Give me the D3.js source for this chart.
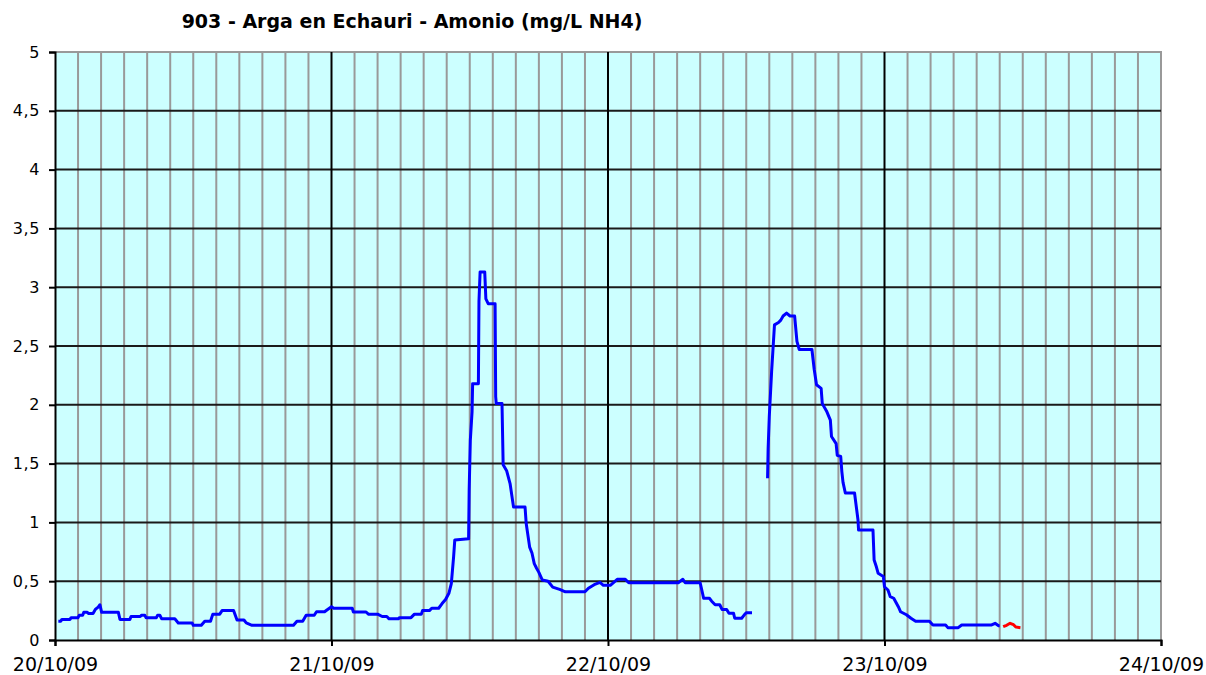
<!DOCTYPE html>
<html>
<head>
<meta charset="utf-8">
<script src="https://cdn.jsdelivr.net/npm/d3@7"></script>
<style>
  html, body { margin: 0; padding: 0; background: #ffffff; }
  svg { display: block; }
  text { font-family: "DejaVu Sans", Verdana, sans-serif; fill: #000; }
</style>
</head>
<body>
<svg id="chart" width="1206" height="675"></svg>
<script>
// Ammonium readings, station 903 (Arga en Echauri)
// Time is given in hours after 20/10/09 00:00.
const title = "903 - Arga en Echauri - Amonio (mg/L NH4)";
const dayLabels = ["20/10/09", "21/10/09", "22/10/09", "23/10/09", "24/10/09"];
const yTickValues = [0, 0.5, 1, 1.5, 2, 2.5, 3, 3.5, 4, 4.5, 5];

// validated series (blue), null marks the gap in the record
const blueHours = [
  0.29, 0.5, 0.6, 1.3, 1.4, 2.0, 2.1, 2.4, 2.5, 2.8, 2.9, 3.3, 3.5, 3.75, 3.9, 4.05,
  5.5, 5.64, 6.5, 6.6, 7.4, 7.5, 7.8, 7.9, 8.8, 8.9, 9.1, 9.26, 10.4, 10.7, 11.9, 12.0,
  12.7, 13.0, 13.5, 13.7, 14.3, 14.5, 15.5, 15.8, 16.4, 16.6, 17.1, 20.7, 21.0, 21.5,
  21.8, 22.5, 22.7, 23.4, 23.6, 24.0, 24.2, 25.8, 25.9, 27.0, 27.2, 28.0, 28.4, 28.8,
  29.0, 29.8, 29.9, 30.9, 31.2, 31.8, 31.9, 32.5, 32.7, 33.3, 33.6, 33.9, 34.2, 34.4,
  34.5, 34.6, 34.7, 35.9, 35.95, 36.05, 36.2, 36.25, 36.75, 36.8, 36.9, 37.3, 37.4, 37.6,
  38.2, 38.25, 38.3, 38.8, 38.9, 39.2, 39.5, 39.8, 40.8, 40.9, 41.2, 41.4, 41.6, 41.8,
  42.0, 42.3, 42.8, 43.2, 43.8, 44.3, 46.0, 46.3, 46.8, 47.3, 47.6, 48.2, 48.5, 48.8,
  49.5, 49.8, 54.1, 54.5, 54.7, 56.0, 56.2, 56.3, 56.8, 57.0, 57.3, 57.7, 57.9, 58.3,
  58.5, 58.9, 59.0, 59.6, 59.8, 60.0, 60.5,
  61.0,
  61.85, 61.9, 62.0, 62.2, 62.45, 62.8, 63.0, 63.2, 63.5, 63.8, 64.2, 64.4, 64.6, 65.7,
  65.9, 66.1, 66.5, 66.6, 67.0, 67.3, 67.4, 67.8, 67.9, 68.2, 68.3, 68.4, 68.6, 69.4,
  69.7, 69.75, 71.0, 71.1, 71.3, 71.45, 71.9, 72.0, 72.3, 72.5, 72.8, 73.2, 73.4, 73.9,
  74.3, 74.7, 75.9, 76.2, 77.3, 77.5, 78.4, 78.7, 81.3, 81.6, 81.9, 82.0
];
const blueValues = [
  0.16, 0.16, 0.175, 0.175, 0.19, 0.19, 0.21, 0.21, 0.235, 0.235, 0.225, 0.225, 0.26, 0.28, 0.30, 0.235,
  0.235, 0.175, 0.175, 0.2, 0.2, 0.21, 0.21, 0.19, 0.19, 0.21, 0.21, 0.18, 0.18, 0.145, 0.145, 0.125,
  0.125, 0.16, 0.16, 0.22, 0.22, 0.25, 0.25, 0.17, 0.17, 0.145, 0.125, 0.125, 0.16, 0.16,
  0.21, 0.21, 0.24, 0.24, 0.255, 0.283, 0.27, 0.27, 0.238, 0.238, 0.22, 0.22, 0.2, 0.2,
  0.18, 0.18, 0.19, 0.19, 0.22, 0.22, 0.25, 0.25, 0.27, 0.27, 0.31, 0.345, 0.4, 0.48,
  0.595, 0.71, 0.85, 0.86, 1.275, 1.7, 1.94, 2.18, 2.18, 2.88, 3.13, 3.13, 2.9, 2.86,
  2.86, 2.07, 2.01, 2.01, 1.49, 1.44, 1.33, 1.13, 1.13, 0.99, 0.79, 0.74, 0.65, 0.61,
  0.575, 0.51, 0.5, 0.45, 0.43, 0.41, 0.41, 0.44, 0.47, 0.49, 0.465, 0.465, 0.49, 0.516,
  0.516, 0.487, 0.487, 0.516, 0.487, 0.487, 0.4, 0.355, 0.355, 0.33, 0.3, 0.3, 0.26, 0.26,
  0.227, 0.227, 0.185, 0.185, 0.21, 0.232, 0.232,
  null,
  1.375, 1.63, 1.9, 2.28, 2.68, 2.7, 2.72, 2.755, 2.78, 2.755, 2.755, 2.54, 2.47, 2.47,
  2.3, 2.17, 2.14, 2.01, 1.94, 1.87, 1.73, 1.67, 1.57, 1.56, 1.43, 1.34, 1.25, 1.25,
  1.02, 0.935, 0.935, 0.68, 0.62, 0.567, 0.54, 0.453, 0.425, 0.368, 0.355, 0.283, 0.24, 0.215,
  0.185, 0.16, 0.16, 0.128, 0.128, 0.105, 0.105, 0.128, 0.128, 0.142, 0.122, 0.122
];

// provisional readings (red)
const redHours = [82.3, 82.6, 82.9, 83.2, 83.4, 83.8];
const redValues = [0.113, 0.125, 0.142, 0.13, 0.11, 0.105];

const svg = d3.select("#chart");
const plotLeft = 55, plotRight = 1161, plotTop = 52, plotBottom = 640;

const start = new Date(2009, 9, 20, 0, 0);
const toDate = h => new Date(start.getTime() + h * 3600 * 1000);
const days = dayLabels.map((_, i) => toDate(i * 24));

const x = d3.scaleTime().domain([days[0], days[days.length - 1]]).range([plotLeft, plotRight]);
const y = d3.scaleLinear().domain([0, 5]).range([plotBottom, plotTop]);

// plot background
svg.append("rect")
  .attr("x", plotLeft).attr("y", plotTop)
  .attr("width", plotRight - plotLeft).attr("height", plotBottom - plotTop)
  .attr("fill", "#ccffff");

// minor vertical grid every 2 hours
const minor = d3.range(2, 96, 2).filter(h => h % 24 !== 0).map(toDate);
svg.append("g").selectAll("line").data(minor).join("line")
  .attr("x1", d => x(d)).attr("x2", d => x(d))
  .attr("y1", plotTop).attr("y2", plotBottom)
  .attr("stroke", "#999999").attr("stroke-width", 2);

// plot frame (top and right)
svg.append("path")
  .attr("d", `M${plotLeft},${plotTop}H${plotRight}V${plotBottom}`)
  .attr("fill", "none").attr("stroke", "#999999").attr("stroke-width", 2);

// horizontal grid
svg.append("g").selectAll("line").data(yTickValues.filter(v => v > 0 && v < 5)).join("line")
  .attr("x1", plotLeft).attr("x2", plotRight)
  .attr("y1", d => y(d)).attr("y2", d => y(d))
  .attr("stroke", "#1a1a1a").attr("stroke-width", 2);

// day grid
svg.append("g").selectAll("line").data(days.slice(1, -1)).join("line")
  .attr("x1", d => x(d)).attr("x2", d => x(d))
  .attr("y1", plotTop).attr("y2", plotBottom)
  .attr("stroke", "#000000").attr("stroke-width", 2);

// series
const line = d3.line()
  .defined(d => d[1] !== null)
  .x(d => x(toDate(d[0])))
  .y(d => y(d[1]));

svg.append("path")
  .datum(blueHours.map((h, i) => [h, blueValues[i]]))
  .attr("d", line)
  .attr("fill", "none").attr("stroke", "#0000ff")
  .attr("stroke-width", 3).attr("stroke-linejoin", "round");

svg.append("path")
  .datum(redHours.map((h, i) => [h, redValues[i]]))
  .attr("d", line)
  .attr("fill", "none").attr("stroke", "#ff0000")
  .attr("stroke-width", 3).attr("stroke-linejoin", "round");

// axes
const yAxis = d3.axisLeft(y).tickValues(yTickValues)
  .tickSize(6).tickPadding(9)
  .tickFormat(d => String(d).replace(".", ","));
const gy = svg.append("g").attr("transform", `translate(${plotLeft},0)`).call(yAxis);
gy.select(".domain").attr("stroke", "#000").attr("stroke-width", 2);
gy.selectAll(".tick line").attr("stroke", "#000").attr("stroke-width", 2);
gy.selectAll("text").attr("font-size", 16).attr("letter-spacing", 0.6)
  .attr("font-family", "DejaVu Sans, Verdana, sans-serif");

const xAxis = d3.axisBottom(x).tickValues(days)
  .tickSize(6).tickPadding(12)
  .tickFormat((d, i) => dayLabels[i]);
const gx = svg.append("g").attr("transform", `translate(0,${plotBottom})`).call(xAxis);
gx.select(".domain").attr("stroke", "#000").attr("stroke-width", 2);
gx.selectAll(".tick line").attr("stroke", "#000").attr("stroke-width", 2);
gx.selectAll("text").attr("font-size", 19).attr("font-family", "DejaVu Sans, Verdana, sans-serif");

// title
svg.append("text")
  .attr("x", 412).attr("y", 28)
  .attr("text-anchor", "middle")
  .attr("font-size", 19).attr("font-weight", "bold")
  .text(title);
</script>
</body>
</html>
